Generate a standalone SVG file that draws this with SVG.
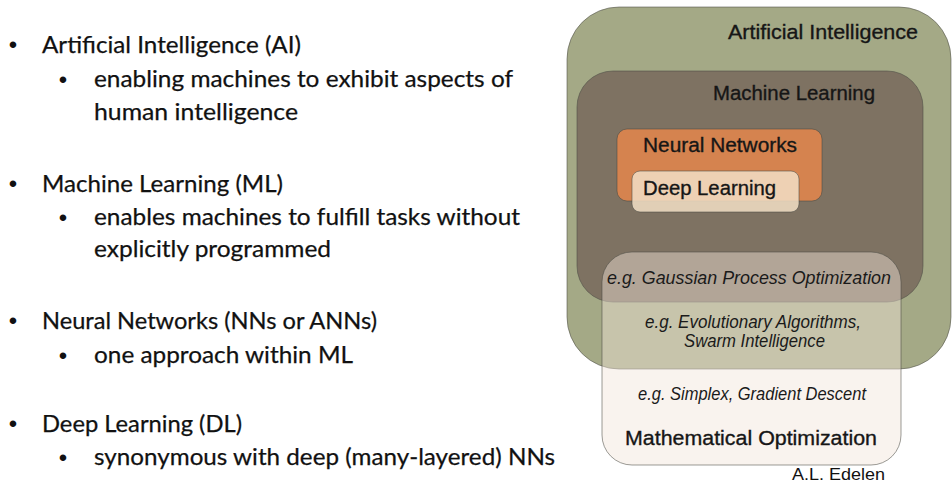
<svg xmlns="http://www.w3.org/2000/svg" width="952" height="484" viewBox="0 0 952 484">
<style>
.bl{font-family:Lato,"Liberation Sans",sans-serif;font-size:23.5px;fill:#111;stroke:#111;stroke-width:0.25px;}
.bu{font-family:"Liberation Sans",Arial,sans-serif;font-size:24px;fill:#111;text-anchor:middle;}
.hd{font-family:"Liberation Sans",Arial,sans-serif;font-size:20.5px;fill:#161616;stroke:#161616;stroke-width:0.35px;}
.it{font-family:"Liberation Sans",Arial,sans-serif;font-style:italic;font-size:18px;fill:#1a1a1a;}
.box{stroke:#4a4a44;stroke-opacity:0.55;stroke-width:1;}
</style>
<rect width="952" height="484" fill="#ffffff"/>
<g id="bullets">
<text class="bu" x="13" y="53">•</text>
<text class="bl" x="42" y="53" textLength="259" lengthAdjust="spacingAndGlyphs">Artificial Intelligence (AI)</text>
<text class="bu" x="63" y="88">•</text>
<text class="bl" x="94" y="87" textLength="419" lengthAdjust="spacingAndGlyphs">enabling machines to exhibit aspects of</text>
<text class="bl" x="94" y="120" textLength="204" lengthAdjust="spacingAndGlyphs">human intelligence</text>
<text class="bu" x="13" y="192">•</text>
<text class="bl" x="42" y="192" textLength="241" lengthAdjust="spacingAndGlyphs">Machine Learning (ML)</text>
<text class="bu" x="63" y="226">•</text>
<text class="bl" x="94" y="225" textLength="426" lengthAdjust="spacingAndGlyphs">enables machines to fulfill tasks without</text>
<text class="bl" x="94" y="257" textLength="237" lengthAdjust="spacingAndGlyphs">explicitly programmed</text>
<text class="bu" x="13" y="329">•</text>
<text class="bl" x="42" y="329" textLength="335" lengthAdjust="spacingAndGlyphs">Neural Networks (NNs or ANNs)</text>
<text class="bu" x="63" y="364">•</text>
<text class="bl" x="94" y="363" textLength="259" lengthAdjust="spacingAndGlyphs">one approach within ML</text>
<text class="bu" x="13" y="432">•</text>
<text class="bl" x="42" y="432" textLength="200" lengthAdjust="spacingAndGlyphs">Deep Learning (DL)</text>
<text class="bu" x="63" y="466">•</text>
<text class="bl" x="94" y="465" textLength="461" lengthAdjust="spacingAndGlyphs">synonymous with deep (many-layered) NNs</text>
</g>
<g id="ai">
<rect class="box" x="567" y="7" width="384" height="362" rx="52" fill="#a4a986"/>
<text class="hd" x="728" y="39" textLength="190" lengthAdjust="spacingAndGlyphs">Artificial Intelligence</text>
</g>
<g id="ml">
<rect class="box" x="577" y="71" width="346" height="231" rx="36" fill="#7e7262"/>
<text class="hd" x="713" y="100" textLength="162" lengthAdjust="spacingAndGlyphs">Machine Learning</text>
</g>
<g id="nn">
<rect class="box" x="617" y="129" width="205" height="72" rx="10" fill="#d5834f"/>
<text class="hd" x="643" y="152" textLength="154" lengthAdjust="spacingAndGlyphs">Neural Networks</text>
</g>
<g id="dl">
<rect class="box" x="632" y="171" width="167" height="41" rx="8" fill="#f2dfc6" fill-opacity="0.85"/>
<text class="hd" x="643" y="195" textLength="133" lengthAdjust="spacingAndGlyphs">Deep Learning</text>
</g>
<g id="mo">
<rect class="box" x="602" y="252" width="299" height="213" rx="30" fill="#f1e5d9" fill-opacity="0.45"/>
<text class="it" x="607" y="284" font-size="19" textLength="284" lengthAdjust="spacingAndGlyphs">e.g. Gaussian Process Optimization</text>
<text class="it" x="645" y="328" font-size="16.5" textLength="216" lengthAdjust="spacingAndGlyphs">e.g. Evolutionary Algorithms,</text>
<text class="it" x="684" y="347" font-size="16.5" textLength="141" lengthAdjust="spacingAndGlyphs">Swarm Intelligence</text>
<text class="it" x="638" y="400" textLength="228" lengthAdjust="spacingAndGlyphs">e.g. Simplex, Gradient Descent</text>
<text class="hd" x="625" y="445" font-size="21" textLength="252" lengthAdjust="spacingAndGlyphs">Mathematical Optimization</text>
</g>
<g id="connectors"/>
<g id="credit">
<text x="792" y="480" font-family="Liberation Sans,Arial,sans-serif" font-size="17" fill="#111" textLength="93" lengthAdjust="spacingAndGlyphs">A.L. Edelen</text>
</g>
</svg>
